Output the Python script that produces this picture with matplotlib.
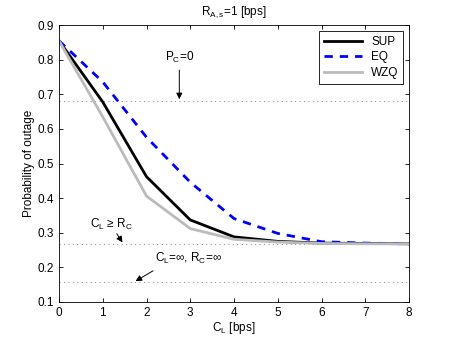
import matplotlib
matplotlib.use("Agg")
import matplotlib.pyplot as plt

plt.rcParams['font.family'] = ['Liberation Sans', 'DejaVu Sans']
plt.rcParams['font.size'] = 8.5

cl = [0, 1, 2, 3, 4, 5, 6, 7, 8]
sup = [0.855, 0.678, 0.462, 0.337, 0.288, 0.275, 0.270, 0.269, 0.268]
eq = [0.855, 0.736, 0.576, 0.446, 0.341, 0.298, 0.274, 0.270, 0.268]
wzq = [0.855, 0.635, 0.406, 0.312, 0.281, 0.273, 0.269, 0.268, 0.268]

pc0_level = 0.68
clrc_level = 0.268
inf_level = 0.157

fig = plt.figure(figsize=(4.52, 3.4), dpi=100)
ax = fig.add_axes([0.1305, 0.112, 0.7745, 0.814])

for lvl in [pc0_level, clrc_level, inf_level]:
    ax.axhline(lvl, color='#999999', linestyle=(0, (1, 3)), linewidth=0.8)

ax.plot(cl, sup, color='black', linewidth=2, label='SUP')
ax.plot(cl, eq, color='blue', linewidth=2, linestyle=(0, (3, 2.5)), label='EQ')
ax.plot(cl, wzq, color='#bbbbbb', linewidth=2, label='WZQ')

arrow = dict(arrowstyle='-|>', color='black', lw=0.7, mutation_scale=9,
             shrinkA=0, shrinkB=0)
ax.text(2.75, 0.785, 'P$_\\mathregular{C}$=0', ha='center', va='bottom')
ax.annotate('', xy=(2.75, pc0_level + 0.006), xytext=(2.75, 0.77), arrowprops=arrow)
ax.text(1.2, 0.303, 'C$_\\mathregular{L}$ \u2265 R$_\\mathregular{C}$', ha='center', va='bottom')
ax.annotate('', xy=(1.45, clrc_level + 0.004), xytext=(1.32, 0.297), arrowprops=arrow)
ax.text(2.2, 0.203, 'C$_\\mathregular{L}$=\u221e, R$_\\mathregular{C}$=\u221e', ha='left', va='bottom')
ax.annotate('', xy=(1.75, inf_level + 0.003), xytext=(2.15, 0.19), arrowprops=arrow)

ax.set_xlim(0, 8)
ax.set_ylim(0.1, 0.9)
ax.set_xticks(range(0, 9))
ax.set_yticks([0.1, 0.2, 0.3, 0.4, 0.5, 0.6, 0.7, 0.8, 0.9])
ax.tick_params(direction='in', top=True, right=True, length=3, width=0.6)
for s in ax.spines.values():
    s.set_linewidth(0.6)

ax.set_xlabel('C$_\\mathregular{L}$ [bps]', labelpad=1)
ax.set_ylabel('Probability of outage', labelpad=2)
ax.set_title('R$_\\mathregular{A,s}$=1 [bps]', fontsize=8.5, pad=7)

leg = ax.legend(loc='upper right', fancybox=False, edgecolor='black', framealpha=1,
                handlelength=3.2, borderpad=0.4, labelspacing=0.3)
leg.get_frame().set_linewidth(0.6)

fig.savefig('out.png', dpi=100)
